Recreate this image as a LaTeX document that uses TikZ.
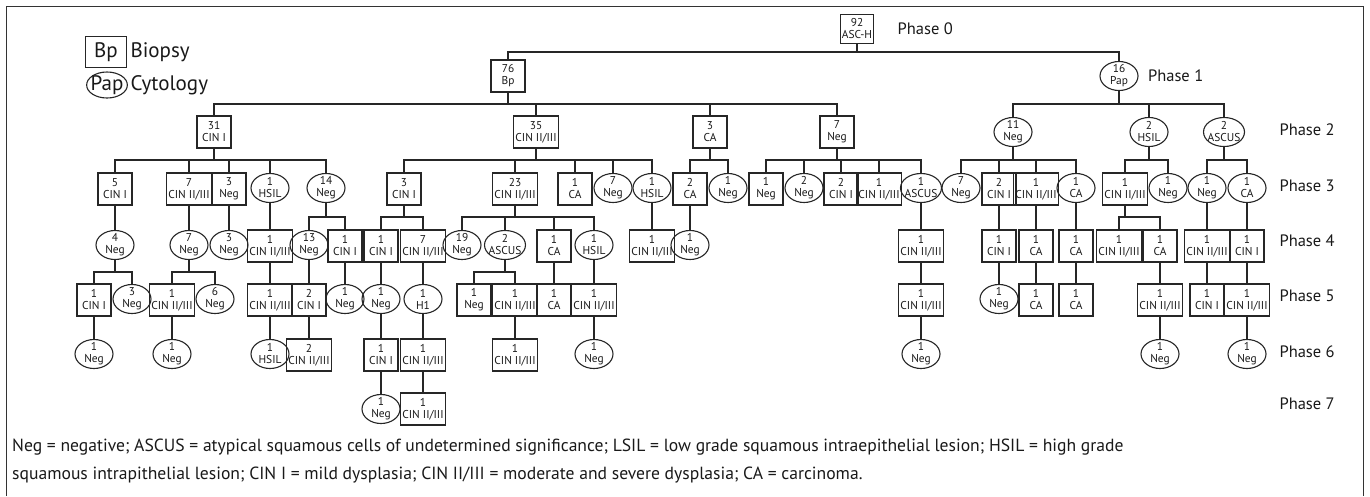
\documentclass[tikz,border=0pt]{standalone}
\usepackage{fontspec}
\setmainfont{PT Sans}
\usetikzlibrary{positioning,shapes.geometric}

\newcommand{\treefont}{\fontsize{11.4}{12}\selectfont}

\begin{document}
\begin{tikzpicture}[
  x=1pt,y=-1pt,
  bx/.style={draw=black!85,line width=1.1pt,align=center,text=black!90,minimum width=34pt,minimum height=32pt,inner sep=1.5pt,font=\treefont},
  ov/.style={draw=black!85,ellipse,line width=1.1pt,align=center,text=black!90,minimum width=38pt,minimum height=29pt,inner sep=-4pt,font=\treefont},
  wide/.style={minimum width=41pt,inner sep=-6pt},
  phase/.style={anchor=west,text=black!90,font=\fontsize{16.5}{16.5}\selectfont},
  link/.style={draw=black!85,line width=1.1pt}
]
\useasboundingbox (0,0) rectangle (1370,496);
\draw[line width=1pt,black!80] (6,496) -- (6,6) -- (1363,6) -- (1363,496);

% legend
\node[bx,font=\fontsize{21}{21}\selectfont,minimum width=41pt,minimum height=31pt] (lgbp) at (106,52) {Bp};
\node[ov,font=\fontsize{21}{21}\selectfont,inner sep=-2pt,minimum width=39pt,minimum height=26pt] (lgpap) at (107,85) {Pap};
\node[anchor=west,font=\fontsize{21}{21}\selectfont,text=black!90] (lgbptxt) at (127,52) {Biopsy};
\node[anchor=west,font=\fontsize{21}{21}\selectfont,text=black!90] (lgpaptxt) at (127,85) {Cytology};

% bus levels
\coordinate (bus0) at (0,52);
\coordinate (bus1) at (0,104);
\coordinate (bus2) at (0,160);
\coordinate (bus3) at (0,217);
\coordinate (bus4) at (0,272);

% phase 0 and 1
\node[bx,minimum width=30pt,minimum height=29pt] (root) at (857,29) {92\\ASC-H};
\node[bx] (bp76) at (508,76) {76\\Bp};
\node[ov] (pap16) at (1119,76) {16\\Pap};

% phase 2
\node[bx] (a31) at (214,132) {31\\CIN I};
\node[bx] (a35) at (536,132) {35\\CIN II/III};
\node[bx] (a3) at (710,132) {3\\CA};
\node[bx] (a7) at (837,132) {7\\Neg};
\node[ov] (b11) at (1013,132) {11\\Neg};
\node[ov] (b2h) at (1149,132) {2\\HSIL};
\node[ov,wide] (b2a) at (1224,132) {2\\ASCUS};

% phase 3
\node[bx] (c5) at (115,189) {5\\CIN I};
\node[bx] (c7) at (189,189) {7\\CIN II/III};
\node[bx] (c3) at (229,189) {3\\Neg};
\node[ov] (c1h) at (270,188) {1\\HSIL};
\node[ov] (c14) at (326,188) {14\\Neg};
\node[bx] (d3) at (404,189) {3\\CIN I};
\node[bx] (d23) at (515,189) {23\\CIN II/III};
\node[bx] (d1ca) at (575,189) {1\\CA};
\node[ov] (d7) at (613,188) {7\\Neg};
\node[ov] (d1h) at (652,188) {1\\HSIL};
\node[bx] (e2) at (690,189) {2\\CA};
\node[ov] (e1) at (728,188) {1\\Neg};
\node[bx] (f1) at (766,189) {1\\Neg};
\node[ov] (f2) at (804,188) {2\\Neg};
\node[bx] (f2c) at (841,189) {2\\CIN I};
\node[bx] (f1c) at (879,189) {1\\CIN II/III};
\node[ov,wide] (f1a) at (921,188) {1\\ASCUS};
\node[ov] (g7) at (961,188) {7\\Neg};
\node[bx] (g2) at (999,189) {2\\CIN I};
\node[bx] (g1) at (1036,189) {1\\CIN II/III};
\node[ov] (g1ca) at (1076,188) {1\\CA};
\node[bx] (h1) at (1125,189) {1\\CIN II/III};
\node[ov] (h2) at (1168,188) {1\\Neg};
\node[ov] (i1) at (1207,188) {1\\Neg};
\node[ov] (i2) at (1247,188) {1\\CA};

% phase 4
\node[ov] (k4) at (115,245) {4\\Neg};
\node[ov] (k7) at (189,245) {7\\Neg};
\node[ov] (k3) at (229,245) {3\\Neg};
\node[bx] (k1) at (270,246) {1\\CIN II/III};
\node[ov] (k13) at (309,245) {13\\Neg};
\node[bx] (k1c) at (345,246) {1\\CIN I};
\node[bx] (m1) at (381,246) {1\\CIN I};
\node[bx] (m7) at (423,246) {7\\CIN II/III};
\node[ov] (n19) at (462,245) {19\\Neg};
\node[ov,wide] (n2) at (505,245) {2\\ASCUS};
\node[bx] (n1ca) at (554,246) {1\\CA};
\node[ov] (n1h) at (594,245) {1\\HSIL};
\node[bx] (p1) at (652,246) {1\\CIN II/III};
\node[ov] (q1) at (690,245) {1\\Neg};
\node[bx] (r1) at (921,246) {1\\CIN II/III};
\node[bx] (s1) at (999,246) {1\\CIN I};
\node[bx] (s2) at (1036,246) {1\\CA};
\node[bx] (s3) at (1076,246) {1\\CA};
\node[bx] (t1) at (1119,246) {1\\CIN II/III};
\node[bx] (t2) at (1160,246) {1\\CA};
\node[bx] (u1) at (1207,246) {1\\CIN II/III};
\node[bx] (u2) at (1247,246) {1\\CIN I};

% phase 5
\node[bx] (l1) at (94,300) {1\\CIN I};
\node[ov] (l3) at (132,299) {3\\Neg};
\node[bx] (l1b) at (172,300) {1\\CIN II/III};
\node[ov] (l6) at (215,299) {6\\Neg};
\node[bx] (l1c) at (270,300) {1\\CIN II/III};
\node[bx] (l2) at (309,300) {2\\CIN I};
\node[ov] (l1n) at (345,299) {1\\Neg};
\node[ov] (o1) at (381,299) {1\\Neg};
\node[ov] (o2) at (423,299) {1\\H1};
\node[bx] (v1) at (474,300) {1\\Neg};
\node[bx] (v2) at (515,300) {1\\CIN II/III};
\node[bx] (v3) at (554,300) {1\\CA};
\node[bx] (v4) at (594,300) {1\\CIN II/III};
\node[bx] (w1) at (921,300) {1\\CIN II/III};
\node[ov] (w2) at (999,299) {1\\Neg};
\node[bx] (w3) at (1036,300) {1\\CA};
\node[bx] (w4) at (1076,300) {1\\CA};
\node[bx] (w5) at (1160,300) {1\\CIN II/III};
\node[bx] (w6) at (1207,300) {1\\CIN I};
\node[bx] (w7) at (1247,300) {1\\CIN II/III};

% phase 6
\node[ov] (x1) at (94,354) {1\\Neg};
\node[ov] (x2) at (172,354) {1\\Neg};
\node[ov] (x3) at (270,354) {1\\HSIL};
\node[bx] (x4) at (309,355) {2\\CIN II/III};
\node[bx] (x5) at (381,355) {1\\CIN I};
\node[bx] (x6) at (423,355) {1\\CIN II/III};
\node[bx] (x7) at (515,355) {1\\CIN II/III};
\node[ov] (x8) at (594,354) {1\\Neg};
\node[ov] (x9) at (921,354) {1\\Neg};
\node[ov] (x10) at (1160,354) {1\\Neg};
\node[ov] (x11) at (1247,354) {1\\Neg};

% phase 7
\node[ov] (z1) at (381,409) {1\\Neg};
\node[bx] (z2) at (423,409) {1\\CIN II/III};

% phase labels
\node[phase,right=20pt of root] (ph0) {Phase 0};
\node[phase,right=6pt of pap16] (ph1) {Phase 1};
\node[phase] (ph2) at (1276,130) {Phase 2};
\node[phase] (ph3) at (1276,186) {Phase 3};
\node[phase] (ph4) at (1276,241) {Phase 4};
\node[phase] (ph5) at (1276,296) {Phase 5};
\node[phase] (ph6) at (1276,352) {Phase 6};
\node[phase] (ph7) at (1276,404) {Phase 7};

% branches
\draw[link] (root) -- (root |- bus0) -| (bp76) (root |- bus0) -| (pap16);
\draw[link] (bp76) -- (bp76 |- bus1) -| (a31) (bp76 |- bus1) -| (a35) (bp76 |- bus1) -| (a3) (bp76 |- bus1) -| (a7);
\draw[link] (pap16) -- (pap16 |- bus1) -| (b11) (pap16 |- bus1) -| (b2h) (pap16 |- bus1) -| (b2a);
\draw[link] (a31) -- (a31 |- bus2) -| (c5) (a31 |- bus2) -| (c7) (a31 |- bus2) -| (c3) (a31 |- bus2) -| (c1h) (a31 |- bus2) -| (c14);
\draw[link] (a35) -- (a35 |- bus2) -| (d3) (a35 |- bus2) -| (d23) (a35 |- bus2) -| (d1ca) (a35 |- bus2) -| (d7) (a35 |- bus2) -| (d1h);
\draw[link] (a3) -- (a3 |- bus2) -| (e2) (a3 |- bus2) -| (e1);
\draw[link] (a7) -- (a7 |- bus2) -| (f1) (a7 |- bus2) -| (f2) (a7 |- bus2) -| (f2c) (a7 |- bus2) -| (f1c) (a7 |- bus2) -| (f1a);
\draw[link] (b11) -- (b11 |- bus2) -| (g7) (b11 |- bus2) -| (g2) (b11 |- bus2) -| (g1) (b11 |- bus2) -| (g1ca);
\draw[link] (b2h) -- (b2h |- bus2) -| (h1) (b2h |- bus2) -| (h2);
\draw[link] (b2a) -- (b2a |- bus2) -| (i1) (b2a |- bus2) -| (i2);
\draw[link] (c5) -- (k4);
\draw[link] (c7) -- (k7);
\draw[link] (c3) -- (k3);
\draw[link] (c1h) -- (k1);
\draw[link] (c14) -- (c14 |- bus3) -| (k13) (c14 |- bus3) -| (k1c);
\draw[link] (d3) -- (d3 |- bus3) -| (m1) (d3 |- bus3) -| (m7);
\draw[link] (d23) -- (d23 |- bus3) -| (n19) (d23 |- bus3) -| (n2) (d23 |- bus3) -| (n1ca) (d23 |- bus3) -| (n1h);
\draw[link] (d1h) -- (p1);
\draw[link] (e2) -- (q1);
\draw[link] (f1a) -- (r1);
\draw[link] (g2) -- (s1);
\draw[link] (g1) -- (s2);
\draw[link] (g1ca) -- (s3);
\draw[link] (h1) -- (h1 |- bus3) -| (t1) (h1 |- bus3) -| (t2);
\draw[link] (i1) -- (u1);
\draw[link] (i2) -- (u2);
\draw[link] (k4) -- (k4 |- bus4) -| (l1) (k4 |- bus4) -| (l3);
\draw[link] (k7) -- (k7 |- bus4) -| (l1b) (k7 |- bus4) -| (l6);
\draw[link] (k1) -- (l1c);
\draw[link] (k13) -- (l2);
\draw[link] (k1c) -- (l1n);
\draw[link] (m1) -- (o1);
\draw[link] (m7) -- (o2);
\draw[link] (n2) -- (n2 |- bus4) -| (v1) (n2 |- bus4) -| (v2);
\draw[link] (n1ca) -- (v3);
\draw[link] (n1h) -- (v4);
\draw[link] (r1) -- (w1);
\draw[link] (s1) -- (w2);
\draw[link] (s2) -- (w3);
\draw[link] (s3) -- (w4);
\draw[link] (t2) -- (w5);
\draw[link] (u1) -- (w6);
\draw[link] (u2) -- (w7);
\draw[link] (l1) -- (x1);
\draw[link] (l1b) -- (x2);
\draw[link] (l1c) -- (x3);
\draw[link] (l2) -- (x4);
\draw[link] (o1) -- (x5);
\draw[link] (o2) -- (x6);
\draw[link] (v2) -- (x7);
\draw[link] (v4) -- (x8);
\draw[link] (w1) -- (x9);
\draw[link] (w5) -- (x10);
\draw[link] (w7) -- (x11);
\draw[link] (x5) -- (z1);
\draw[link] (x6) -- (z2);

% note
\node[anchor=north west,align=left,inner sep=0pt,text=black!90,font=\fontsize{17.6}{28}\selectfont] (note) at (12,439)
  {Neg = negative; ASCUS = atypical squamous cells of undetermined significance; LSIL = low grade squamous intraepithelial lesion; HSIL = high grade\\
   squamous intrapithelial lesion; CIN I = mild dysplasia; CIN II/III = moderate and severe dysplasia; CA = carcinoma.};
\end{tikzpicture}
\end{document}
